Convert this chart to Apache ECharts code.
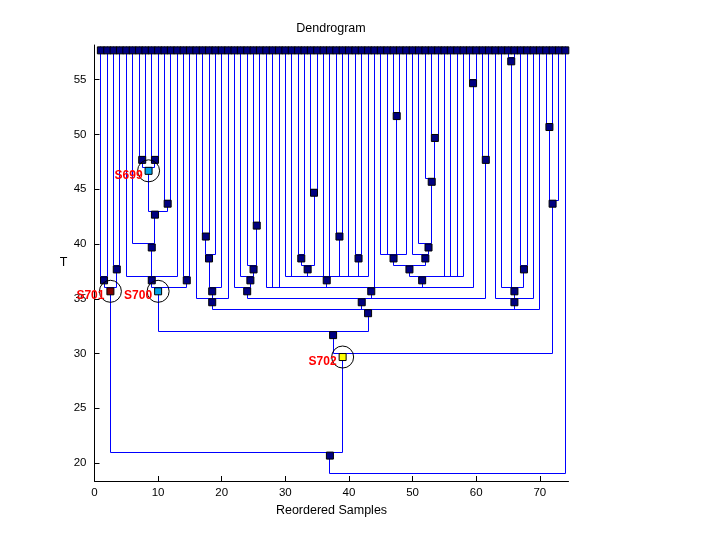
<!DOCTYPE html>
<html><head><meta charset="utf-8">
<script src="https://cdn.jsdelivr.net/npm/echarts@6/dist/echarts.min.js"></script>
<style>html,body{margin:0;padding:0;background:#fff}#c{width:720px;height:540px}</style>
</head><body><div id="c"></div>
<script>
// ---- data ----
const leafCount = 74;          // reordered samples 1..74
const leafT = 58;              // temperature of the leaf row
const nodeNames = ['n12','n34','S701','n78','n910','S699','n1112','n7_12','n6_12','n5_13','n1415','S700',
  'n1718','n17_19','n17_20','B1','n2526','n24_26','n23_26','n22_26','n3233','n3435','n32_35','n3839','n4142','P',
  'n4748','U','n5354','n52_54','n51_54','n50_54','V','W','n5960','Q','n6162','R','n6566','n6768','n64_68','S',
  'N2','N1','n7172','n71_73','S702','A','root'];
const nodeT = [37,38,36,48,48,47,44,43,40,37,37,36,
  41,39,36,35,42,38,37,36,39,45,38,41,39,37,
  52,39,50,46,40,39,38,37,55,36,48,35,57,38,36,35,
  34,32,51,44,30,21,19];
const nodeChildren = [[1,2],[3,4],['n12','n34'],[7,8],[9,10],['n78','n910'],[11,12],['S699','n1112'],[6,'n7_12'],[5,'n6_12',13],[14,15],['n5_13','n1415'],
  [17,18],['n1718',19],['n17_19',20],[16,'n17_20',21],[25,26],[24,'n2526'],[23,'n24_26'],[22,'n23_26'],[32,33],[34,35],['n3233','n3435'],[38,39],[41,42],[30,31,'n32_35',36,37,'n3839',40,'n4142',43],
  [47,48],[45,46,'n4748',49],[53,54],[52,'n5354'],[51,'n52_54'],[50,'n51_54'],['U','n50_54'],['V',55,56,57,58],[59,60],[27,28,29,'P',44,'W','n5960'],[61,62],['n22_26','Q','n6162'],[65,66],[67,68],[64,'n6566','n6768'],[63,'n64_68',69],
  ['B1','R','S',70],['S700','N2'],[71,72],['n7172',73],['N1','n71_73'],['S701','S702'],['A',74]];
const specialNames = ['S699','S700','S701','S702'];
const specialColors = ['#00A2E8','#00A2E8','#800000','#FFFF00'];
const xTicks = [0,10,20,30,40,50,60,70];
const yTicks = [20,25,30,35,40,45,50,55];

// ---- build tree geometry ----
const idx = {}; nodeNames.forEach((n,i)=>idx[n]=i);
const leafMemo = {};
function leavesOf(c){
  if (typeof c === 'number') return [c];
  if (leafMemo[c]) return leafMemo[c];
  let a = []; nodeChildren[idx[c]].forEach(k=>{a = a.concat(leavesOf(k));});
  return leafMemo[c] = a;
}
function posX(c){ const l = leavesOf(c); return l.reduce((s,v)=>s+v,0)/l.length; }
function posT(c){ return typeof c === 'number' ? leafT : nodeT[idx[c]]; }

const segs = [];
nodeNames.forEach((n,i)=>{
  const T = nodeT[i];
  const xs = nodeChildren[i].map(posX);
  segs.push([Math.min(...xs), T, Math.max(...xs), T]);
  nodeChildren[i].forEach(c=>{ segs.push([posX(c), posT(c), posX(c), T]); });
});

const navy = '#000080';
const markers = [];
for (let i=1;i<=leafCount;i++) markers.push({value:[i, leafT]});
nodeNames.forEach((n,i)=>{
  if (n === 'root') return;
  const si = specialNames.indexOf(n);
  const m = {value:[posX(n), nodeT[i]]};
  if (si >= 0) m.itemStyle = {color: specialColors[si]};
  markers.push(m);
});
const specials = specialNames.map(n=>[posX(n), nodeT[idx[n]], n]);

const snap = v => Math.round(v - 0.5) + 0.5;
const chart = echarts.init(document.getElementById('c'));
const axisCommon = {
  axisLine:{show:true, lineStyle:{color:'#000', width:1}},
  axisTick:{show:true, inside:true, length:5, lineStyle:{color:'#000'}},
  axisLabel:{color:'#000', fontSize:11.5, fontFamily:'Liberation Sans'},
  splitLine:{show:false},
  nameTextStyle:{color:'#000', fontSize:12.5, fontFamily:'Liberation Sans'}
};
chart.setOption({
  animation:false,
  backgroundColor:'#fff',
  grid:{left:94.5, right:151.5, top:45, bottom:59},
  graphic:[{type:'text', x:331, y:28.5, style:{text:'Dendrogram', fill:'#000', font:'12.5px "Liberation Sans"', textAlign:'center', textVerticalAlign:'middle'}}],
  xAxis:Object.assign({}, axisCommon, {type:'value', min:0, max:74.5,
    axisTick:Object.assign({}, axisCommon.axisTick, {customValues:xTicks}),
    axisLabel:Object.assign({}, axisCommon.axisLabel, {customValues:xTicks, margin:6}),
    name:'Reordered Samples', nameLocation:'middle', nameGap:19}),
  yAxis:Object.assign({}, axisCommon, {type:'value', min:18.36, max:58.17,
    axisTick:Object.assign({}, axisCommon.axisTick, {customValues:yTicks}),
    axisLabel:Object.assign({}, axisCommon.axisLabel, {customValues:yTicks, margin:8}),
    name:'T', nameLocation:'middle', nameGap:27, nameRotate:0}),
  series:[
    {type:'custom', coordinateSystem:'cartesian2d', silent:true, clip:false,
     data:segs,
     renderItem:function(params, api){
       const p1 = api.coord([api.value(0), api.value(1)]);
       const p2 = api.coord([api.value(2), api.value(3)]);
       return {type:'line', shape:{x1:snap(p1[0]), y1:snap(p1[1]), x2:snap(p2[0]), y2:snap(p2[1])}, style:{stroke:'#0000FF', lineWidth:1}};
     }},
    {type:'scatter', symbol:'rect', symbolSize:7, symbolOffset:[0,3.5], silent:true,
     itemStyle:{color:navy, borderColor:'#000', borderWidth:1, opacity:1},
     data:markers, z:3},
    {type:'custom', coordinateSystem:'cartesian2d', silent:true, z:4,
     data:specials,
     renderItem:function(params, api){
       const p = api.coord([api.value(0), api.value(1)]);
       const name = specials[params.dataIndex][2];
       return {type:'group', children:[
         {type:'circle', shape:{cx:p[0], cy:p[1]+3.5, r:11}, style:{fill:'none', stroke:'#000', lineWidth:1}},
         {type:'text', x:p[0]-6, y:p[1]+8, style:{text:name, fill:'#FF0000', font:'bold 12px "Liberation Sans"', textAlign:'right', textVerticalAlign:'middle'}}
       ]};
     }}
  ]
});
</script></body></html>
